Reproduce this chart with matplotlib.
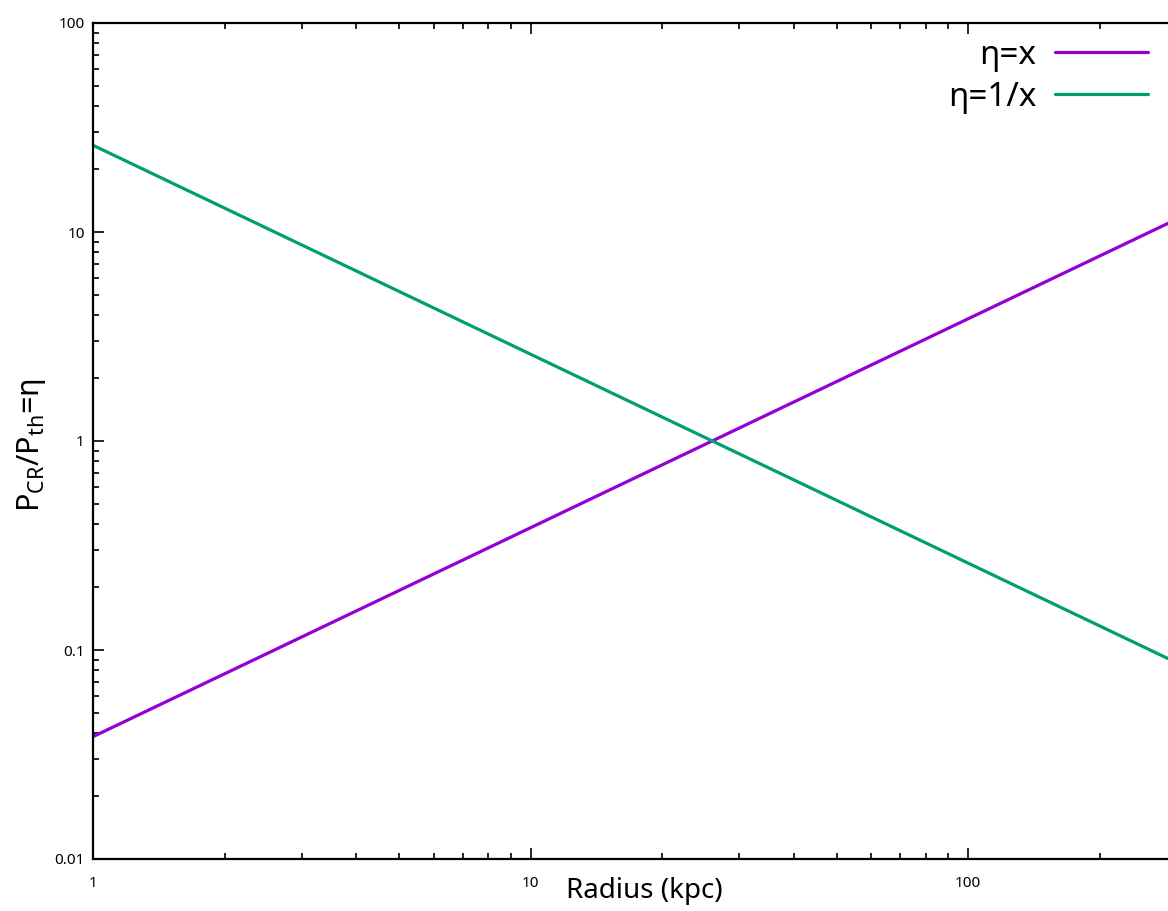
import numpy as np
import matplotlib.pyplot as plt
from matplotlib.ticker import LogLocator, NullFormatter, FixedFormatter, FixedLocator

plt.rcParams['font.family'] = ['Noto Sans', 'DejaVu Sans']
plt.rcParams['mathtext.fontset'] = 'custom'
plt.rcParams['mathtext.rm'] = 'Noto Sans'
plt.rcParams['mathtext.it'] = 'Noto Sans'

# straight lines on log-log axes: endpoints are enough
radius = [1.0, 286.0]
eta_x = [0.0385, 11.0]
eta_inv = [26.0, 0.091]

x_ticks = [1, 10, 100]
x_ticklabels = ["1", "10", "100"]
y_ticks = [0.01, 0.1, 1, 10, 100]
y_ticklabels = ["0.01", "0.1", "1", "10", "100"]

fig = plt.figure(figsize=(11.68, 9.11), dpi=100)
ax = fig.add_axes([93 / 1168, 1 - 859 / 911, 1 - 93 / 1168, (859 - 23) / 911])

ax.plot(radius, eta_x, color="#9400D3", lw=2.3, label="η=x", solid_capstyle="round")
ax.plot(radius, eta_inv, color="#009E73", lw=2.3, label="η=1/x", solid_capstyle="round")

ax.set_xscale("log")
ax.set_yscale("log")
ax.set_xlim(radius[0], radius[-1])
ax.set_ylim(0.01, 100)

ax.xaxis.set_major_locator(FixedLocator(x_ticks))
ax.xaxis.set_major_formatter(FixedFormatter(x_ticklabels))
ax.yaxis.set_major_locator(FixedLocator(y_ticks))
ax.yaxis.set_major_formatter(FixedFormatter(y_ticklabels))
ax.xaxis.set_minor_locator(LogLocator(base=10, subs=np.arange(2, 10)))
ax.yaxis.set_minor_locator(LogLocator(base=10, subs=np.arange(2, 10)))
ax.xaxis.set_minor_formatter(NullFormatter())
ax.yaxis.set_minor_formatter(NullFormatter())

ax.tick_params(which="both", direction="in", top=True, right=False, width=1.2,
               labelsize=11, colors="black")
ax.tick_params(which="major", length=8)
ax.tick_params(which="minor", length=4)
ax.tick_params(axis="x", which="major", pad=12)
ax.tick_params(axis="y", which="major", pad=6)

for side in ("left", "bottom", "top"):
    ax.spines[side].set_linewidth(1.6)
ax.spines["right"].set_visible(False)

ax.set_xlabel("Radius (kpc)", fontsize=20, va="center")
ax.xaxis.set_label_coords(0.513, -0.038)
ax.set_ylabel(r"P$_{\mathrm{CR}}$/P$_{\mathrm{th}}$=η", fontsize=22)
ax.yaxis.set_label_coords(-0.042, 0.495)

leg = ax.legend(loc="upper right", frameon=False, markerfirst=False, fontsize=24,
                handlelength=2.8, handletextpad=0.55, labelspacing=0.27,
                borderaxespad=0.0, bbox_to_anchor=(0.994, 0.997))
for t in leg.get_texts():
    t.set_ha("right")

fig.savefig("out.png", dpi=100)
